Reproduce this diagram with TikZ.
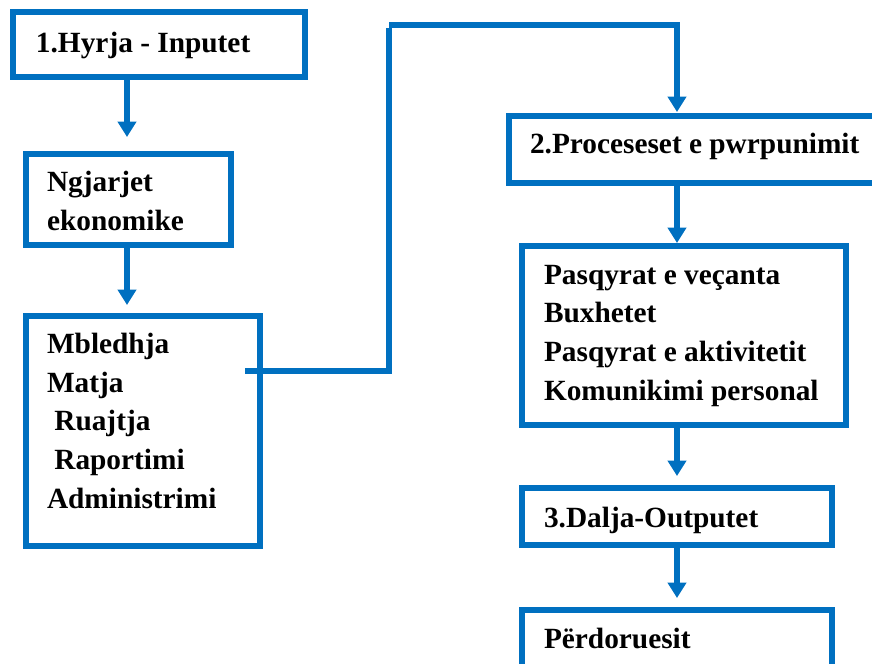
\documentclass[tikz,border=0pt]{standalone}
\usepackage{fontspec}
\setmainfont{Liberation Serif}
\usetikzlibrary{arrows.meta}
\definecolor{flowblue}{HTML}{0070C0}
\tikzset{
  box/.style={draw=flowblue, line width=4.5pt, rectangle, inner sep=0pt, outer sep=0pt, fill=white},
  % text blocks are placed by the baseline of their last line
  txt/.style={anchor=base west, inner sep=0pt, outer sep=0pt, align=left,
              font=\fontsize{22pt}{28.9pt}\selectfont\bfseries},
  link/.style={draw=flowblue, line width=4.5pt},
  flow/.style={link, -{Triangle[width=13.5pt, length=11.5pt]}}
}
\begin{document}
\begin{tikzpicture}[x=0.75pt, y=-0.75pt]
\useasboundingbox (0,0) rectangle (872,664);
\clip (0,0) rectangle (872,664);

% left column
\node[box, minimum width=291.5*0.75pt, minimum height=65.5*0.75pt] (hyr) at (158.75,44.25) {};
\node[txt] (thyr) at (36,52) {1.Hyrja - Inputet};

\node[box, minimum width=205*0.75pt, minimum height=91*0.75pt] (ngj) at (128,199) {};
\node[txt] (tngj) at (47,230) {Ngjarjet\\ekonomike};

\node[box, minimum width=234*0.75pt, minimum height=230*0.75pt] (mbl) at (142.5,430.5) {};
\node[txt] (tmbl) at (47,508) {Mbledhja\\Matja\\~Ruajtja\\~Raportimi\\Administrimi};

% right column
\node[box, minimum width=381*0.75pt, minimum height=67*0.75pt] (proc) at (699.5,149) {};
\node[txt] (tproc) at (530,153) {2.Proceseset e pwrpunimit};

\node[box, minimum width=324*0.75pt, minimum height=179*0.75pt] (pasq) at (684,335) {};
\node[txt] (tpasq) at (544,400) {Pasqyrat e veçanta\\Buxhetet\\Pasqyrat e aktivitetit\\Komunikimi personal};

\node[box, minimum width=309.5*0.75pt, minimum height=57*0.75pt] (dal) at (676.75,516.5) {};
\node[txt] (tdal) at (544,527) {3.Dalja-Outputet};

\node[box, minimum width=309.5*0.75pt, minimum height=90*0.75pt] (per) at (676.75,654.5) {};
\node[txt] (tper) at (544,648) {Përdoruesit};

% guide coordinates for the vertical arrows
\coordinate (lx) at (127,0);
\coordinate (rx) at (677,0);

% arrows of the left column
\draw[flow, shorten >=16.5*0.75pt] (hyr.south -| lx) -- (ngj.north -| lx);
\draw[flow, shorten >=10.5*0.75pt] (ngj.south -| lx) -- (mbl.north -| lx);

% connector from the left column over to the processing box
\coordinate (j1) at (245,371);
\coordinate (j2) at (389,28);
\coordinate (j3) at (389,25);
\draw[link] (j1) -| (j2);
\draw[flow, shorten >=3.5*0.75pt] (j3) -| (proc.north -| rx);

% arrows of the right column
\draw[flow, shorten >=2.5*0.75pt] (proc.south -| rx) -- (pasq.north -| rx);
\draw[flow, shorten >=12*0.75pt] (pasq.south -| rx) -- (dal.north -| rx);
\draw[flow, shorten >=11.5*0.75pt] (dal.south -| rx) -- (per.north -| rx);
\end{tikzpicture}
\end{document}
